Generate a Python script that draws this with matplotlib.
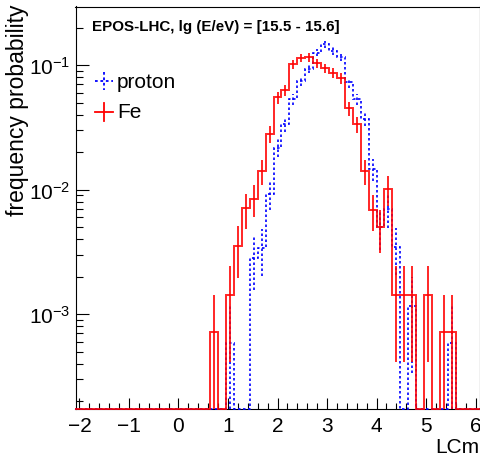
import numpy as np
import matplotlib
matplotlib.use("Agg")
import matplotlib.pyplot as plt
from matplotlib.lines import Line2D
from matplotlib.ticker import FixedLocator, LogLocator, NullFormatter, LogFormatterMathtext

plt.rcParams['font.family'] = ['Liberation Sans', 'DejaVu Sans']
plt.rcParams['mathtext.fontset'] = 'custom'
plt.rcParams['mathtext.rm'] = 'Liberation Sans'
plt.rcParams['mathtext.it'] = 'Liberation Sans:italic'
plt.rcParams['mathtext.bf'] = 'Liberation Sans:bold'

# ---------------- data ----------------
hist_range = (-2.08, 6.08)
n_bins = 51

# frequency probability per bin (bin centres -2.00, -1.84, ..., 6.00)
fe_prob = [0, 0, 0, 0, 0, 0, 0, 0, 0, 0,
           0, 0, 0, 0, 0, 0, 0, 7.13e-4, 0, 1.42e-3,
           3.54e-3, 7.06e-3, 8.49e-3, 0.01416, 0.02825, 0.0551, 0.063, 0.1019, 0.1145, 0.1159,
           0.1042, 0.0946, 0.0871, 0.0787, 0.0449, 0.0336, 0.01416, 6.84e-3, 4.97e-3, 0.0101,
           1.42e-3, 1.42e-3, 1.42e-3, 0, 1.42e-3, 0, 7.13e-4, 7.13e-4, 0, 0,
           0]
proton_prob = [0, 0, 0, 0, 0, 0, 0, 0, 0, 0,
               0, 0, 0, 0, 0, 0, 0, 0, 0, 5.82e-4,
               0, 0, 2.85e-3, 3.43e-3, 9.2e-3, 0.0218, 0.0336, 0.053, 0.0748, 0.094,
               0.1264, 0.1475, 0.1303, 0.1153, 0.0726, 0.0533, 0.0368, 0.01462, 5.0e-3, 6.97e-3,
               3.47e-3, 0, 1.16e-3, 0, 0, 0, 0, 5.82e-4, 0, 0,
               0]
n_fe_events = 1402
n_proton_events = 1718

title_text = "EPOS-LHC, lg (E/eV) = [15.5 - 15.6]"
x_label = "LCm"
y_label = "frequency probability"
legend_labels = ["proton", "Fe"]
x_ticks = [-2, -1, 0, 1, 2, 3, 4, 5, 6]
y_ticks = [1e-3, 1e-2, 1e-1]
y_range = (1.73e-4, 0.296)

# ---------------- figure ----------------
W, H = 481, 460
fig = plt.figure(figsize=(W / 100, H / 100), dpi=100)
L, R, T, B = 75.5, 479.5, 7.5, 410
ax = fig.add_axes([L / W, 1 - B / H, (R - L) / W, (B - T) / H])
ax.set_yscale('log')
ax.set_xlim(hist_range)
ax.set_ylim(y_range)

edges = np.linspace(hist_range[0], hist_range[1], n_bins + 1)
centers = 0.5 * (edges[:-1] + edges[1:])
ymin = y_range[0]


def draw_hist(vals, n_events, color, ls, lw, z, alpha=1.0):
    v = np.asarray(vals, dtype=float)
    shown = np.where(v > 0, v, ymin)
    ax.stairs(shown, edges, baseline=None, color=color, linestyle=ls,
              lw=lw, clip_on=False, zorder=z, alpha=alpha)
    nz = v > 0
    err = np.sqrt(v[nz] / n_events)
    lo = np.maximum(v[nz] - err, ymin)
    hi = v[nz] + err
    ax.vlines(centers[nz], lo, hi, color=color, linestyles=[ls], lw=lw,
              zorder=z, alpha=alpha)


dot = (0, (1.5, 1.5))
draw_hist(proton_prob, n_proton_events, '#0000ff', dot, 1.2, 3)
draw_hist(fe_prob, n_fe_events, '#ff0000', '-', 1.4, 4, alpha=0.85)

# ticks
ax.xaxis.set_major_locator(FixedLocator(x_ticks))
ax.xaxis.set_minor_locator(FixedLocator(np.arange(-2.0, 6.01, 0.2)))
ax.yaxis.set_major_locator(FixedLocator(y_ticks))
ax.yaxis.set_minor_locator(LogLocator(base=10, subs=np.arange(2, 10)))
ax.yaxis.set_minor_formatter(NullFormatter())
ax.yaxis.set_major_formatter(LogFormatterMathtext())
ax.tick_params(axis='both', which='both', direction='in', top=False, right=False,
               width=0.8, labelsize=15)
ax.tick_params(axis='x', which='major', length=8, pad=5)
ax.tick_params(axis='x', which='minor', length=4)
ax.tick_params(axis='y', which='major', length=9.4, pad=4)
ax.tick_params(axis='y', which='minor', length=4.8)
for s in ax.spines.values():
    s.set_linewidth(0.8)

# labels
fig.text(479 / W, 1 - 448 / H, x_label, ha='right', va='center', fontsize=15)
fig.text(18 / W, 1 - 5 / H, y_label, ha='center', va='top', rotation=90, fontsize=16.5)
fig.text(92 / W, 1 - 27 / H, title_text, ha='left', va='center', fontsize=10.9,
         fontweight='bold')

# legend (manual)
def px(x, y):
    return x / W, 1 - y / H

for (lab, color, ls, yc) in [(legend_labels[0], '#0000ff', dot, 82),
                             (legend_labels[1], '#ff0000', '-', 113)]:
    x0, y0 = px(95, yc)
    x1, y1 = px(113, yc)
    fig.add_artist(Line2D([x0, x1], [y0, y1], color=color, linestyle=ls, lw=1.3,
                          transform=fig.transFigure))
    xa, ya = px(104, yc - 9)
    xb, yb = px(104, yc + 9)
    fig.add_artist(Line2D([xa, xb], [ya, yb], color=color, linestyle=ls, lw=1.3,
                          transform=fig.transFigure))
    tx, ty = px(117, yc)
    fig.text(tx, ty, lab, ha='left', va='center', fontsize=15)

fig.savefig('out.png', dpi=100)
